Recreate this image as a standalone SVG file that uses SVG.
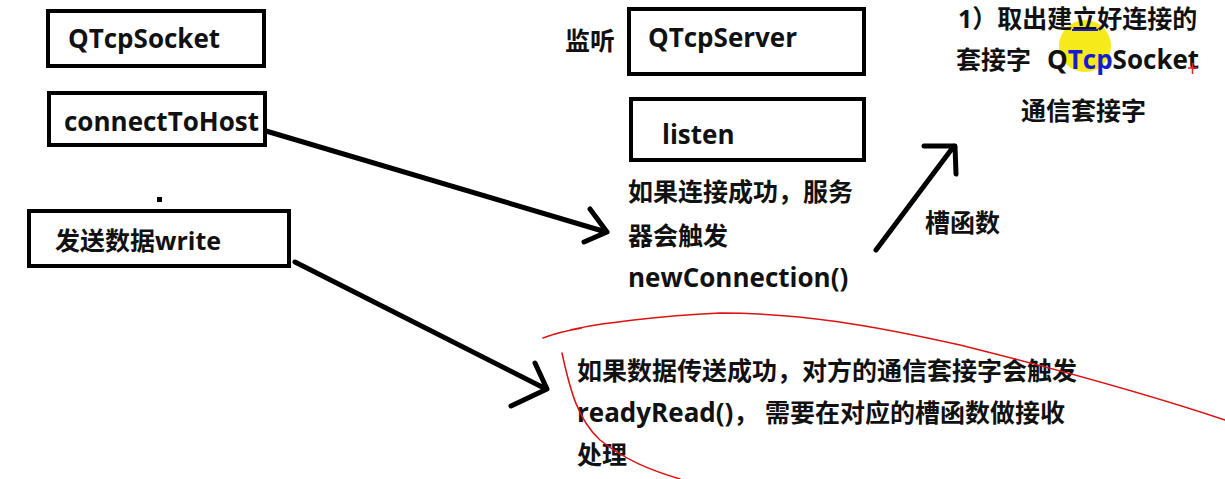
<svg xmlns="http://www.w3.org/2000/svg" width="1225" height="479" viewBox="0 0 1225 479">
<style>
.t{font-family:"Open Sans","Noto Sans CJK SC",sans-serif;font-weight:bold;font-size:25px;fill:#111}
.l{font-size:26px}
.box{fill:none;stroke:#000;stroke-width:4}
.ln{fill:none;stroke:#000;stroke-width:5;stroke-linecap:round;stroke-linejoin:round}
.red{fill:none;stroke:#d11;stroke-width:1.5;stroke-linecap:round}
</style>
<rect width="1225" height="479" fill="#fff"/>
<g id="hl"><circle cx="1085" cy="46" r="26" fill="#f7ea1a"/></g>
<g id="n-qtcpsocket"><rect class="box" x="48" y="11" width="216" height="55"/><text class="t l" x="68" y="48">QTcpSocket</text></g>
<g id="n-connect"><rect class="box" x="49" y="93" width="216" height="52"/><text class="t l" x="64" y="131">connectToHost</text></g>
<rect x="157" y="197" width="5" height="5" fill="#000"/>
<g id="n-write"><rect class="box" x="29" y="211" width="260" height="55"/><text class="t" x="55" y="250">发送数据write</text></g>
<g id="n-listen-label"><text class="t" x="565" y="50">监听</text></g>
<g id="n-qtcpserver"><rect class="box" x="629" y="9" width="235" height="65"/><text class="t l" x="648" y="47">QTcpServer</text></g>
<g id="n-listen"><rect class="box" x="631" y="99" width="233" height="61"/><text class="t l" x="662" y="144">listen</text></g>
<g id="n-newconn"><text class="t" x="628" y="201">如果连接成功，服务</text><text class="t" x="628" y="245">器会触发</text><text class="t l" x="628" y="287">newConnection()</text></g>
<g id="n-slot"><text class="t" x="925" y="232">槽函数</text></g>
<g id="n-take"><text class="t" x="958" y="28">1）取出建立好连接的</text><path d="M1072 30 H1098" stroke="#1a1acc" stroke-width="2"/><text class="t" x="956" y="69">套接字<tspan class="l" x="1047">Q<tspan fill="#1a1acc">Tcp</tspan>Socket</tspan></text><text class="t" x="1021" y="120">通信套接字</text></g>
<g id="n-ready"><text class="t" x="577" y="380">如果数据传送成功，对方的通信套接字会触发</text><text class="t" x="577" y="422"><tspan class="l">readyRead()</tspan>， 需要在对应的槽函数做接收</text><text class="t" x="577" y="464">处理</text></g>
<g id="connectors">
<path class="ln" d="M266 131 L606 232 M590 209 L607 232 L584 242"/>
<path class="ln" d="M295 262 L546 389 M535 363 L547 389 L511 406"/>
<path class="ln" d="M876 250 L954 146 M924 146 L955 146 L956 174"/>
</g>
<g id="marks">
<path class="red" d="M543 338 C556 333 570 330 582 328 L570 330 C600 323 660 316 720 313 C800 313 870 325 960 345 C1060 370 1150 395 1225 420"/>
<path class="red" d="M562 353 C570 390 578 420 600 440 C625 460 650 470 680 479"/>
<path d="M1188 68 H1197 M1192.5 63 V74" stroke="#e22" stroke-width="1.5"/>
</g>
</svg>
